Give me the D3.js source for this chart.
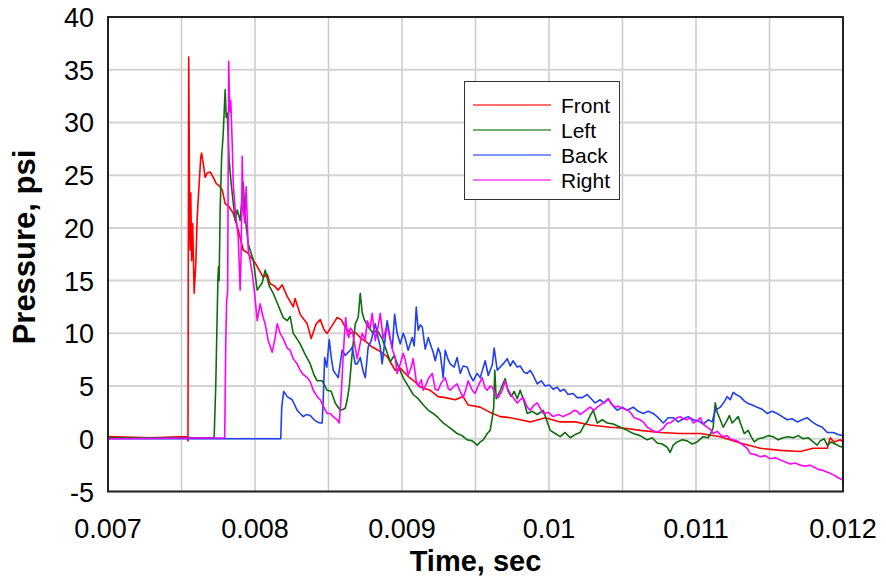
<!DOCTYPE html>
<html>
<head>
<meta charset="utf-8">
<script src="https://cdn.jsdelivr.net/npm/d3@7"></script>
<style>
  body { margin: 0; background: #fff; }
  text { font-family: Arial, "Liberation Sans", sans-serif; }
</style>
</head>
<body>
<svg id="chart" width="886" height="582"></svg>
<script>
// time (sec), pressure (psi)
var front = [
  [0.007000,0.2],[0.007286,0.1],[0.007539,0.2],[0.007544,-0.2],[0.007549,36.2],[0.007556,20],[0.007559,17.9],
  [0.007563,23.3],[0.007569,16.9],[0.007576,20.4],[0.007586,13.8],[0.007597,16.5],[0.007607,21],[0.007620,24.2],
  [0.007631,26.7],[0.007637,27.1],[0.007648,26.1],[0.007661,24.8],[0.007675,25.2],[0.007695,25.3],[0.007716,24.8],
  [0.007737,24.2],[0.007756,24.0],[0.007777,23.6],[0.007797,22.3],[0.007824,22.0],[0.007851,21.4],[0.007886,19.8],
  [0.007920,17.9],[0.007952,17.6],[0.008000,16.7],[0.008029,16.0],[0.008056,15.3],[0.008083,15.6],[0.008103,14.7],
  [0.008131,14.5],[0.008158,14.1],[0.008185,14.6],[0.008219,13.5],[0.008260,12.5],[0.008273,13.3],[0.008307,11.8],
  [0.008355,10.9],[0.008382,9.5],[0.008416,10.9],[0.008444,11.3],[0.008471,10.3],[0.008491,10.0],[0.008532,10.9],
  [0.008559,11.5],[0.008586,11.3],[0.008614,10.6],[0.008648,10.0],[0.008682,10.1],[0.008716,9.6],[0.008756,9.2],
  [0.008797,8.7],[0.008838,8.4],[0.008899,7.8],[0.008954,6.5],[0.008988,6.7],[0.009042,5.9],[0.009090,5.4],
  [0.009124,4.9],[0.009192,4.6],[0.009246,4.0],[0.009294,3.9],[0.009362,3.7],[0.009416,4.0],[0.009450,3.2],
  [0.009532,3.0],[0.009600,2.5],[0.009668,2.1],[0.009736,2.0],[0.009804,1.8],[0.009872,1.6],[0.009974,2.0],
  [0.010076,1.6],[0.010178,1.6],[0.010280,1.3],[0.010416,1.1],[0.010518,1.0],[0.010620,0.8],[0.010757,0.6],
  [0.010893,0.5],[0.011029,0.5],[0.011165,0.2],[0.011301,-0.4],[0.011437,-0.9],[0.011573,-1.1],[0.011709,-1.2],
  [0.011797,-0.9],[0.011893,-0.9],[0.011913,0.1],[0.011940,-0.3],[0.011981,-0.1],[0.012000,-0.3]
];
var left = [
  [0.007000,0.1],[0.007722,0.1],[0.007733,5],[0.007748,15.3],[0.007752,16.3],[0.007756,15.0],[0.007763,21.7],
  [0.007773,26.7],[0.007784,29],[0.007797,33.1],[0.007804,30.5],[0.007811,30.9],[0.007818,28.6],[0.007824,26.4],
  [0.007838,24.2],[0.007851,22.5],[0.007865,20.7],[0.007879,21.7],[0.007899,20.7],[0.007920,24.3],[0.007933,21.0],
  [0.007954,18.5],[0.007967,17.9],[0.007988,17.0],[0.008015,14.1],[0.008049,14.8],[0.008069,16.0],[0.008097,14.5],
  [0.008124,13.8],[0.008151,12.9],[0.008171,12.2],[0.008192,11.5],[0.008219,11.2],[0.008239,11.6],[0.008260,10.0],
  [0.008280,9.6],[0.008307,9.0],[0.008341,8.0],[0.008376,7.1],[0.008403,6.0],[0.008423,5.5],[0.008457,5.5],
  [0.008491,4.6],[0.008518,4.5],[0.008546,3.4],[0.008580,2.7],[0.008600,2.8],[0.008614,2.9],[0.008627,3.7],
  [0.008641,4.9],[0.008661,8.1],[0.008682,10.9],[0.008702,11.5],[0.008716,13.8],[0.008729,12.0],[0.008743,11.3],
  [0.008770,10.6],[0.008804,10.0],[0.008831,10.3],[0.008865,9.5],[0.008893,8.4],[0.008920,7.3],[0.008947,7.9],
  [0.008974,6.9],[0.009008,5.8],[0.009042,5.0],[0.009076,4.2],[0.009110,3.8],[0.009145,3.2],[0.009179,2.7],
  [0.009212,2.4],[0.009246,2.0],[0.009280,1.5],[0.009328,1.0],[0.009375,0.5],[0.009409,0.3],[0.009443,-0.1],
  [0.009478,-0.2],[0.009511,-0.6],[0.009532,-0.3],[0.009553,-0.1],[0.009580,0.5],[0.009600,0.8],[0.009614,2.0],
  [0.009624,3.0],[0.009631,6.5],[0.009641,3.8],[0.009668,4.6],[0.009702,5.7],[0.009722,4.5],[0.009743,4.0],
  [0.009763,4.5],[0.009784,3.8],[0.009804,4.6],[0.009831,3.5],[0.009852,2.4],[0.009886,2.6],[0.009920,2.3],
  [0.009961,2.7],[0.009988,1.6],[0.010008,0.8],[0.010042,0.5],[0.010076,0.2],[0.010110,0.6],[0.010144,0.1],
  [0.010178,0.4],[0.010212,0.6],[0.010240,1.3],[0.010260,1.6],[0.010280,2.2],[0.010301,2.7],[0.010328,1.5],
  [0.010362,1.8],[0.010396,1.5],[0.010437,1.4],[0.010485,1.1],[0.010532,0.8],[0.010573,0.5],[0.010620,0.3],
  [0.010668,-0.1],[0.010702,0.1],[0.010736,-0.4],[0.010770,-0.5],[0.010804,-0.8],[0.010824,-1.3],[0.010845,-0.6],
  [0.010872,-0.3],[0.010906,-0.1],[0.010940,-0.2],[0.010974,-0.5],[0.011008,-0.3],[0.011049,0.2],[0.011083,0.1],
  [0.011104,0.6],[0.011117,1.1],[0.011131,3.4],[0.011144,2.5],[0.011165,1.8],[0.011185,1.1],[0.011206,1.6],
  [0.011227,2.2],[0.011246,1.5],[0.011267,1.8],[0.011287,2.1],[0.011307,1.3],[0.011328,0.5],[0.011355,0.8],
  [0.011375,0.2],[0.011396,-0.3],[0.011423,0.0],[0.011457,0.1],[0.011491,0.3],[0.011525,0.2],[0.011559,-0.1],
  [0.011593,0.1],[0.011627,0.2],[0.011661,0.1],[0.011695,0.3],[0.011729,0.0],[0.011763,0.1],[0.011797,-0.3],
  [0.011824,-0.6],[0.011845,-0.2],[0.011872,0.0],[0.011893,-0.6],[0.011920,-0.3],[0.011947,-0.5],[0.011974,-0.7],
  [0.012000,-0.8]
];
var back = [
  [0.007000,0.0],[0.008175,0.0],[0.008182,3.0],[0.008195,4.5],[0.008219,4.0],[0.008253,3.7],[0.008287,2.7],
  [0.008307,2.4],[0.008328,2.1],[0.008348,2.3],[0.008376,2.2],[0.008403,1.8],[0.008423,1.6],[0.008444,1.5],
  [0.008457,1.5],[0.008464,3.7],[0.008474,7.7],[0.008488,6.8],[0.008505,9.4],[0.008518,7.8],[0.008532,6.5],
  [0.008546,6.2],[0.008566,5.8],[0.008593,8.4],[0.008614,7.9],[0.008627,8.1],[0.008648,8.4],[0.008661,8.7],
  [0.008682,7.1],[0.008695,7.1],[0.008716,7.7],[0.008736,6.4],[0.008750,5.8],[0.008770,8.7],[0.008790,9.3],
  [0.008818,10.9],[0.008831,10.0],[0.008852,8.7],[0.008865,7.1],[0.008886,9.6],[0.008899,11.2],[0.008920,9.5],
  [0.008934,8.6],[0.008950,11.8],[0.008967,10.0],[0.008988,9.0],[0.009008,10.0],[0.009022,9.5],[0.009042,8.4],
  [0.009070,9.6],[0.009083,8.8],[0.009097,12.5],[0.009110,10.3],[0.009124,10.8],[0.009138,10.6],[0.009158,8.5],
  [0.009179,9.6],[0.009192,9.0],[0.009212,8.2],[0.009226,7.4],[0.009246,8.6],[0.009260,8.1],[0.009280,5.8],
  [0.009294,8.4],[0.009314,7.5],[0.009328,7.1],[0.009355,6.8],[0.009375,7.7],[0.009396,6.2],[0.009416,6.9],
  [0.009443,6.8],[0.009464,6.0],[0.009484,5.5],[0.009511,6.2],[0.009532,5.8],[0.009566,7.4],[0.009587,6.0],
  [0.009600,6.5],[0.009614,7.0],[0.009627,8.6],[0.009648,6.5],[0.009668,6.8],[0.009688,7.1],[0.009716,7.6],
  [0.009736,6.9],[0.009756,7.4],[0.009784,6.8],[0.009804,6.9],[0.009831,6.3],[0.009852,6.2],[0.009872,6.5],
  [0.009893,6.0],[0.009920,5.2],[0.009947,5.5],[0.009974,5.0],[0.010001,5.1],[0.010029,4.7],[0.010056,4.9],
  [0.010076,4.5],[0.010103,4.7],[0.010130,4.2],[0.010164,4.3],[0.010192,3.9],[0.010226,3.9],[0.010260,4.2],
  [0.010287,3.8],[0.010314,3.4],[0.010348,3.7],[0.010375,3.4],[0.010403,3.8],[0.010437,3.1],[0.010464,2.7],
  [0.010498,3.0],[0.010532,2.7],[0.010573,3.0],[0.010607,2.6],[0.010641,2.4],[0.010675,2.6],[0.010709,2.4],
  [0.010743,2.0],[0.010777,1.5],[0.010811,2.0],[0.010845,2.0],[0.010879,1.6],[0.010913,1.9],[0.010947,2.1],
  [0.010981,1.8],[0.011015,1.7],[0.011049,1.4],[0.011083,1.8],[0.011110,1.6],[0.011131,2.7],[0.011165,3.0],
  [0.011192,3.5],[0.011212,4.0],[0.011233,3.7],[0.011253,4.4],[0.011273,4.2],[0.011300,4.0],[0.011328,3.6],
  [0.011348,3.4],[0.011382,3.2],[0.011416,3.0],[0.011450,2.8],[0.011484,2.4],[0.011518,2.6],[0.011552,2.4],
  [0.011586,2.1],[0.011620,1.8],[0.011654,1.9],[0.011688,1.6],[0.011722,1.8],[0.011756,2.0],[0.011790,1.6],
  [0.011824,1.3],[0.011858,1.1],[0.011893,0.6],[0.011933,0.6],[0.011967,0.4],[0.012000,0.3]
];
var right = [
  [0.007000,0.0],[0.007794,0.1],[0.007801,9],[0.007807,13.1],[0.007814,14],[0.007821,35.8],[0.007828,31],
  [0.007835,32.1],[0.007845,28],[0.007852,24.2],[0.007865,21.7],[0.007886,19.1],[0.007899,14.1],[0.007906,17.6],
  [0.007913,26.8],[0.007920,21.7],[0.007930,20.5],[0.007940,23.9],[0.007954,17.9],[0.007967,16.9],[0.007981,15.7],
  [0.007995,14.1],[0.008015,11.2],[0.008035,12.8],[0.008056,11.5],[0.008069,10.9],[0.008090,9.3],[0.008117,8.2],
  [0.008137,9.6],[0.008151,10.9],[0.008171,10.0],[0.008192,9.5],[0.008219,8.6],[0.008239,8.4],[0.008260,7.6],
  [0.008287,7.1],[0.008307,6.5],[0.008328,6.1],[0.008355,5.8],[0.008376,5.4],[0.008396,4.6],[0.008423,4.0],
  [0.008444,3.7],[0.008464,3.1],[0.008491,2.4],[0.008512,2.4],[0.008532,2.1],[0.008559,1.8],[0.008573,1.5],
  [0.008586,4.0],[0.008597,7.1],[0.008607,9.5],[0.008617,11.5],[0.008627,10.0],[0.008638,9.6],[0.008648,10.5],
  [0.008661,10.3],[0.008675,9.2],[0.008695,7.6],[0.008709,8.6],[0.008729,10.0],[0.008750,9.4],[0.008764,11.2],
  [0.008784,10.5],[0.008797,11.9],[0.008818,9.3],[0.008838,10.7],[0.008852,11.9],[0.008872,9.5],[0.008893,10.5],
  [0.008906,10.3],[0.008934,8.5],[0.008954,7.7],[0.008967,6.2],[0.008988,7.1],[0.009008,8.1],[0.009022,7.5],
  [0.009042,6.0],[0.009063,6.8],[0.009076,7.6],[0.009097,5.5],[0.009110,5.0],[0.009131,5.6],[0.009145,4.6],
  [0.009165,5.2],[0.009179,5.7],[0.009206,6.2],[0.009226,4.7],[0.009246,4.6],[0.009267,5.3],[0.009294,5.8],
  [0.009314,4.8],[0.009328,4.6],[0.009355,5.0],[0.009375,5.2],[0.009396,4.5],[0.009416,3.9],[0.009437,4.8],
  [0.009450,5.5],[0.009478,4.6],[0.009497,4.3],[0.009518,5.0],[0.009545,5.8],[0.009566,4.8],[0.009580,4.6],
  [0.009600,5.0],[0.009614,4.9],[0.009634,4.3],[0.009655,3.9],[0.009682,4.6],[0.009702,5.5],[0.009716,4.8],
  [0.009736,4.3],[0.009763,3.8],[0.009784,3.4],[0.009804,3.7],[0.009825,3.9],[0.009852,3.0],[0.009872,2.7],
  [0.009899,3.2],[0.009920,3.4],[0.009940,2.9],[0.009961,2.4],[0.009995,2.5],[0.010029,2.1],[0.010063,2.3],
  [0.010097,2.1],[0.010124,2.3],[0.010144,2.4],[0.010171,2.7],[0.010192,2.6],[0.010212,2.3],[0.010233,2.5],
  [0.010260,2.8],[0.010280,3.0],[0.010307,2.7],[0.010328,3.0],[0.010348,3.2],[0.010369,3.4],[0.010389,3.6],
  [0.010403,3.8],[0.010423,3.3],[0.010450,3.0],[0.010471,3.1],[0.010498,2.9],[0.010518,2.8],[0.010539,2.7],
  [0.010559,2.4],[0.010580,2.0],[0.010600,1.9],[0.010620,1.8],[0.010648,1.5],[0.010668,1.1],[0.010702,0.8],
  [0.010736,0.6],[0.010757,0.8],[0.010777,1.0],[0.010804,1.5],[0.010824,1.5],[0.010852,1.8],[0.010872,2.0],
  [0.010893,2.1],[0.010913,1.9],[0.010940,1.8],[0.010961,2.0],[0.010981,1.5],[0.011008,1.7],[0.011029,2.0],
  [0.011049,1.4],[0.011076,1.1],[0.011097,0.9],[0.011117,0.5],[0.011144,0.7],[0.011165,0.4],[0.011185,0.2],
  [0.011212,0.3],[0.011233,0.0],[0.011253,-0.1],[0.011280,-0.2],[0.011300,-0.4],[0.011321,-0.6],[0.011348,-0.9],
  [0.011369,-1.4],[0.011403,-1.5],[0.011437,-1.7],[0.011471,-1.6],[0.011505,-1.9],[0.011539,-1.8],[0.011573,-2.0],
  [0.011607,-2.2],[0.011641,-2.4],[0.011675,-2.3],[0.011709,-2.5],[0.011743,-2.6],[0.011777,-2.5],[0.011804,-2.7],
  [0.011831,-2.9],[0.011865,-3.0],[0.011899,-3.2],[0.011933,-3.4],[0.011967,-3.7],[0.012000,-3.9]
];

var seriesNames = ["Front", "Left", "Back", "Right"];
var seriesData = [front, left, back, right];
var seriesColors = ["#ff0000", "#0b6e0b", "#1f3ff0", "#ff00ff"];

var xGrid = [0.007, 0.0075, 0.008, 0.0085, 0.009, 0.0095, 0.01, 0.0105, 0.011, 0.0115, 0.012];
var xLabels = [0.007, 0.008, 0.009, 0.01, 0.011, 0.012];
var yTicks = [-5, 0, 5, 10, 15, 20, 25, 30, 35, 40];

var svg = d3.select('#chart');

var x = d3.scaleLinear()
  .domain([0.007, 0.012])
  .range([108, 843]);

var y = d3.scaleLinear()
  .domain([-5, 40])
  .range([491.5, 17]);

// gridlines
svg.append('g')
  .selectAll('line')
  .data(xGrid)
  .enter()
  .append('line')
  .attr('x1', d => x(d)).attr('x2', d => x(d))
  .attr('y1', y(40)).attr('y2', y(-5))
  .attr('stroke', '#cacaca')
  .attr('stroke-width', 1.5);

svg.append('g')
  .selectAll('line')
  .data(yTicks)
  .enter()
  .append('line')
  .attr('x1', x(0.007)).attr('x2', x(0.012))
  .attr('y1', d => y(d)).attr('y2', d => y(d))
  .attr('stroke', '#d3d3d3')
  .attr('stroke-width', 2);

svg.append('clipPath')
  .attr('id', 'plotclip')
  .append('rect')
  .attr('x', x(0.007)).attr('y', y(40))
  .attr('width', x(0.012) - x(0.007))
  .attr('height', y(-5) - y(40));

var line = d3.line()
  .x(d => x(d[0]))
  .y(d => y(d[1]));

svg.append('g')
  .attr('clip-path', 'url(#plotclip)')
  .selectAll('path')
  .data(seriesData)
  .enter()
  .append('path')
  .attr('fill', 'none')
  .attr('stroke', (d, i) => seriesColors[i])
  .attr('stroke-width', 1.6)
  .attr('stroke-linejoin', 'round')
  .attr('d', line);

// frame
svg.append('rect')
  .attr('x', x(0.007)).attr('y', y(40))
  .attr('width', x(0.012) - x(0.007))
  .attr('height', y(-5) - y(40))
  .attr('fill', 'none')
  .attr('stroke', '#222')
  .attr('stroke-width', 2);

// tick labels
svg.append('g')
  .selectAll('text')
  .data(yTicks)
  .enter()
  .append('text')
  .attr('x', 94)
  .attr('y', d => y(d) + 10)
  .attr('text-anchor', 'end')
  .attr('font-size', 27)
  .text(d => d);

svg.append('g')
  .selectAll('text')
  .data(xLabels)
  .enter()
  .append('text')
  .attr('x', d => x(d))
  .attr('y', 538)
  .attr('text-anchor', 'middle')
  .attr('font-size', 27)
  .text(d => d3.format('')(d));

// axis titles
svg.append('text')
  .attr('x', 475.5)
  .attr('y', 571)
  .attr('text-anchor', 'middle')
  .attr('font-size', 29)
  .attr('font-weight', 'bold')
  .text('Time, sec');

svg.append('text')
  .attr('transform', 'translate(35,247) rotate(-90)')
  .attr('text-anchor', 'middle')
  .attr('font-size', 31)
  .attr('font-weight', 'bold')
  .text('Pressure, psi');

// legend
var legend = svg.append('g');
legend.append('rect')
  .attr('x', 464.5).attr('y', 81.5)
  .attr('width', 155).attr('height', 118)
  .attr('fill', '#fff')
  .attr('stroke', '#333')
  .attr('stroke-width', 1);

var rows = legend.selectAll('g.row')
  .data(seriesNames)
  .enter()
  .append('g')
  .attr('class', 'row')
  .attr('transform', (d, i) => 'translate(0,' + (105 + i * 25) + ')');

rows.append('line')
  .attr('x1', 473).attr('x2', 551)
  .attr('stroke', (d, i) => seriesColors[i])
  .attr('stroke-opacity', 0.75)
  .attr('stroke-width', 1.5);

rows.append('text')
  .attr('x', 561)
  .attr('y', 7.5)
  .attr('font-size', 21)
  .text(d => d);
</script>
</body>
</html>
